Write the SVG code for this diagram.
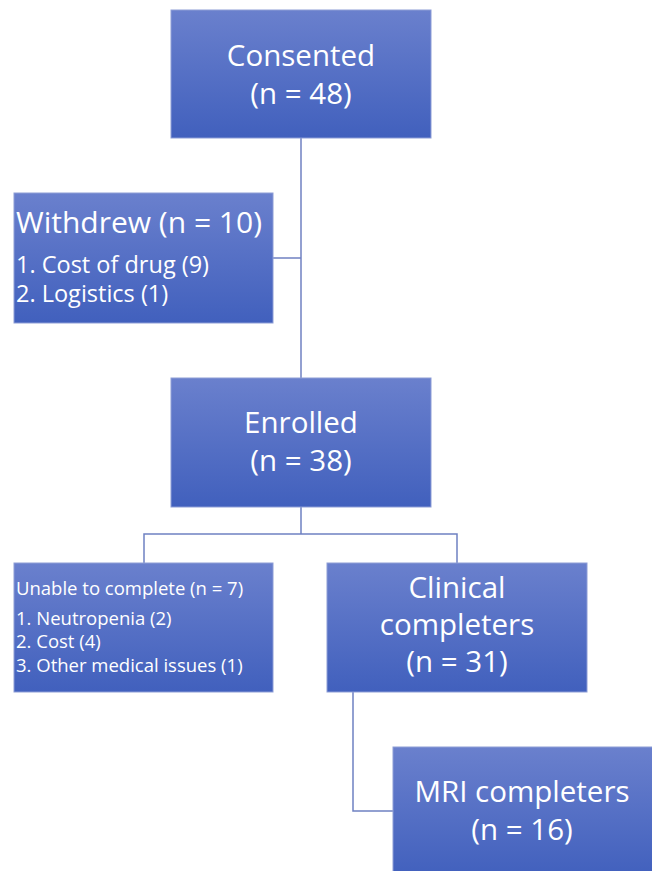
<svg xmlns="http://www.w3.org/2000/svg" width="652" height="871" viewBox="0 0 652 871">
<defs>
<linearGradient id="g" x1="0" y1="0" x2="0" y2="1">
<stop offset="0" stop-color="#6a80cd"/>
<stop offset="1" stop-color="#4160bd"/>
</linearGradient>
<style>
.box{fill:url(#g);stroke:#8d9dd6;stroke-width:1}
.t{font-family:"Open Sans","Liberation Sans",sans-serif;fill:#ffffff}
.big{font-size:29.5px;text-anchor:middle}
.mid{font-size:23.5px}
.sm{font-size:18.5px}
.c{fill:none;stroke:#6f81c2;stroke-width:1.5}
</style>
</defs>
<rect width="652" height="871" fill="#ffffff"/>
<g id="connectors">
<path class="c" d="M301,138 V378"/>
<path class="c" d="M273,258 H301"/>
<path class="c" d="M301,507 V534 M144,563 V534 H457 V563"/>
<path class="c" d="M353,692 V811 H393"/>
</g>
<g id="consented">
<rect class="box" x="171" y="10" width="260" height="128"/>
<text class="t big" x="301" y="66">Consented</text>
<text class="t big" x="301" y="104">(n = 48)</text>
</g>
<g id="withdrew">
<rect class="box" x="14" y="193" width="259" height="130"/>
<text class="t" x="16" y="233" font-size="30">Withdrew (n = 10)</text>
<text class="t mid" x="16" y="273">1. Cost of drug (9)</text>
<text class="t mid" x="16" y="302">2. Logistics (1)</text>
</g>
<g id="enrolled">
<rect class="box" x="171" y="378" width="260" height="129"/>
<text class="t big" x="301" y="433">Enrolled</text>
<text class="t big" x="301" y="471">(n = 38)</text>
</g>
<g id="unable">
<rect class="box" x="14" y="563" width="259" height="129"/>
<text class="t sm" x="16" y="595">Unable to complete (n = 7)</text>
<text class="t sm" x="16" y="625">1. Neutropenia (2)</text>
<text class="t sm" x="16" y="648">2. Cost (4)</text>
<text class="t sm" x="16" y="672">3. Other medical issues (1)</text>
</g>
<g id="clinical">
<rect class="box" x="327" y="563" width="260" height="129"/>
<text class="t big" x="457" y="598">Clinical</text>
<text class="t big" x="457" y="635">completers</text>
<text class="t big" x="457" y="672">(n = 31)</text>
</g>
<g id="mri">
<rect class="box" x="393" y="747" width="265" height="130"/>
<text class="t big" x="522" y="802">MRI completers</text>
<text class="t big" x="522" y="840">(n = 16)</text>
</g>
</svg>
